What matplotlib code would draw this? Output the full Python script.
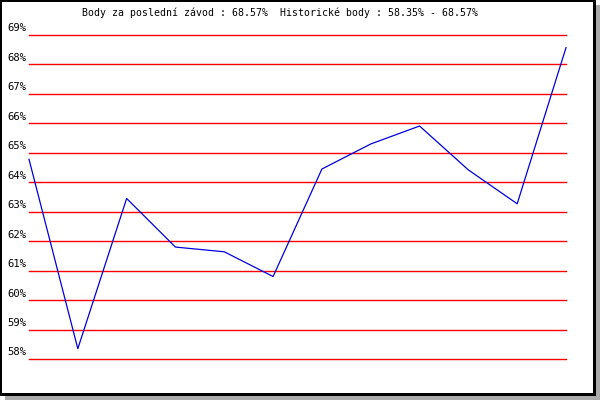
#!/usr/bin/env python
# -*- coding: utf-8 -*-

import matplotlib
matplotlib.use('Agg')
import matplotlib.pyplot as plt
from matplotlib.patches import Rectangle
from matplotlib.transforms import offset_copy

# Points per race (percent)
RACES = list(range(12))
POINTS = [64.78, 58.35, 63.45, 61.80, 61.64, 60.80,
          64.45, 65.30, 65.91, 64.42, 63.27, 68.57]
GRID_LEVELS = list(range(58, 70))
TITLE = 'Body za poslední závod : 68.57%  Historické body : 58.35% - 68.57%'

W, H = 600, 400
FONT = 'DejaVu Sans Mono'


def box(fig, x0, y0, x1, y1, color):
    # pixel coords measured from the top-left corner
    fig.patches.append(Rectangle((x0 / W, 1 - y1 / H), (x1 - x0) / W,
                                 (y1 - y0) / H, transform=fig.transFigure,
                                 facecolor=color, edgecolor='none',
                                 zorder=-10))


def main():
    fig = plt.figure(figsize=(6, 4), dpi=100, facecolor='white')

    # shadow + black frame
    box(fig, 5, 5, 600, 400, '#aaaaaa')
    box(fig, 0, 0, 596, 396, 'black')
    box(fig, 2, 2, 593, 393, 'white')

    left, right, top, bottom = 29, 566, 35, 359
    ax = fig.add_axes([left / W, 1 - bottom / H, (right - left) / W,
                       (bottom - top) / H])
    ax.set_zorder(5)
    ax.patch.set_alpha(0)
    ax.set_xlim(RACES[0], RACES[-1])
    ax.set_ylim(58, 69)
    for s in ax.spines.values():
        s.set_visible(False)
    ax.set_xticks([])
    ax.set_yticks([])

    for lvl in GRID_LEVELS:
        ax.axhline(lvl, color='#ff0000', linewidth=1.0, zorder=1,
                   clip_on=False)

    lab_tr = offset_copy(ax.get_yaxis_transform(), fig=fig,
                         x=-3, y=1.5, units='dots')
    for lvl in GRID_LEVELS:
        ax.text(0, lvl, '%d%%' % lvl, transform=lab_tr, ha='right',
                va='bottom', family=FONT, fontsize=7.6, color='black')

    ax.plot(RACES, POINTS, color='#0000dd', linewidth=0.9, zorder=2,
            clip_on=False)

    fig.text(280 / W, 1 - 13 / H, TITLE, ha='center', va='center',
             family=FONT, fontsize=7.1, color='black', zorder=6)

    fig.savefig('out.png', dpi=100)


if __name__ == "__main__":
    main()
